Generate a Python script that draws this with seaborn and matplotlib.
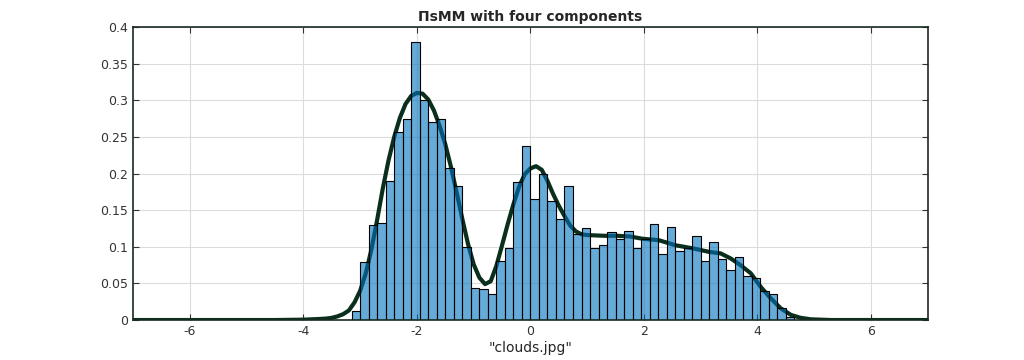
import numpy as np
import pandas as pd
import matplotlib
matplotlib.use("Agg")
import matplotlib.pyplot as plt
import seaborn as sns

# histogram bar heights (normalised), bins of width 0.15 starting at -3.15
bin_start = -3.15
bin_width = 0.15
bar_heights = [
    0.012, 0.079, 0.130, 0.133, 0.190, 0.257, 0.275, 0.379, 0.300, 0.271,
    0.274, 0.208, 0.183, 0.100, 0.044, 0.042, 0.036, 0.080, 0.098, 0.189,
    0.237, 0.165, 0.200, 0.162, 0.138, 0.183, 0.117, 0.125, 0.099, 0.102,
    0.120, 0.111, 0.122, 0.099, 0.110, 0.131, 0.090, 0.127, 0.094, 0.099,
    0.115, 0.081, 0.106, 0.083, 0.068, 0.086, 0.060, 0.058, 0.039, 0.035,
    0.016, 0.004,
]

# fitted mixture density
curve_x = [-7.0, -4.5, -4.0, -3.7, -3.6, -3.5, -3.4, -3.3, -3.2, -3.1,
           -3.0, -2.9, -2.8, -2.7, -2.6, -2.5, -2.4, -2.3, -2.2, -2.1,
           -2.0, -1.9, -1.8, -1.7, -1.6, -1.5, -1.4, -1.3, -1.2, -1.1,
           -1.0, -0.9, -0.8, -0.7, -0.6, -0.5, -0.4, -0.3, -0.2, -0.1,
           0.0, 0.1, 0.2, 0.3, 0.4, 0.5, 0.6, 0.7, 0.8, 0.9,
           1.0, 1.3, 1.53, 1.76, 1.97, 2.26, 2.56, 2.85, 3.15, 3.35,
           3.53, 3.70, 3.88, 4.06, 4.23, 4.41, 4.59, 4.76, 4.94, 5.3, 7.0]
curve_y = [0.0, 0.0, 0.0005, 0.0015, 0.002, 0.003, 0.005, 0.008, 0.013, 0.024,
           0.040, 0.064, 0.097, 0.137, 0.180, 0.218, 0.250, 0.276, 0.295, 0.306,
           0.310, 0.309, 0.301, 0.286, 0.265, 0.240, 0.209, 0.174, 0.138, 0.104,
           0.076, 0.058, 0.049, 0.053, 0.074, 0.102, 0.131, 0.158, 0.182, 0.199,
           0.207, 0.210, 0.205, 0.190, 0.172, 0.156, 0.142, 0.129, 0.121, 0.117,
           0.116, 0.115, 0.115, 0.114, 0.111, 0.109, 0.102, 0.098, 0.093, 0.091,
           0.084, 0.075, 0.064, 0.045, 0.030, 0.016, 0.007, 0.003, 0.001, 0.0, 0.0]

title_text = "ΠsMM with four components"
xlabel_text = '"clouds.jpg"'
xticks = [-6, -4, -2, 0, 2, 4, 6]
yticks = [0, 0.05, 0.1, 0.15, 0.2, 0.25, 0.3, 0.35, 0.4]

sns.set_style("white")
plt.rcParams["font.family"] = ["DejaVu Sans"]

edges = bin_start + bin_width * np.arange(len(bar_heights) + 1)
centers = (edges[:-1] + edges[1:]) / 2
hist_df = pd.DataFrame({"x": centers, "w": bar_heights})
curve_df = pd.DataFrame({"x": curve_x, "y": curve_y})

fig = plt.figure(figsize=(10.24, 3.6), dpi=100)
ax = fig.add_axes([0.13, 0.111, 0.776, 0.814])

ax.grid(True, color="#dcdcdc", linewidth=0.8, zorder=0)
ax.set_axisbelow(True)

sns.lineplot(data=curve_df, x="x", y="y", color="#0b2f1d", linewidth=3.0,
             ax=ax, zorder=1)
sns.histplot(data=hist_df, x="x", weights="w", bins=edges.tolist(), stat="count",
             color="#0072bd", alpha=0.6, edgecolor="black", linewidth=0.8,
             ax=ax, zorder=2)

ax.set_xlim(-7, 7)
ax.set_ylim(0, 0.4)
ax.set_xticks(xticks)
ax.set_yticks(yticks)
ax.set_xticklabels([str(t) for t in xticks])
ax.set_yticklabels([f"{t:g}" for t in yticks])
ax.tick_params(direction="in", length=4, labelsize=9, colors="#333333",
               top=True, right=True, bottom=True, left=True)
for sp in ax.spines.values():
    sp.set_visible(True)
    sp.set_color("#1a2a20")
    sp.set_linewidth(1.2)

ax.set_title(title_text, fontsize=10, fontweight="bold", pad=4)
ax.set_xlabel(xlabel_text, fontsize=10, labelpad=2)
ax.set_ylabel("")

fig.savefig("out.png", dpi=100)
plt.close(fig)
